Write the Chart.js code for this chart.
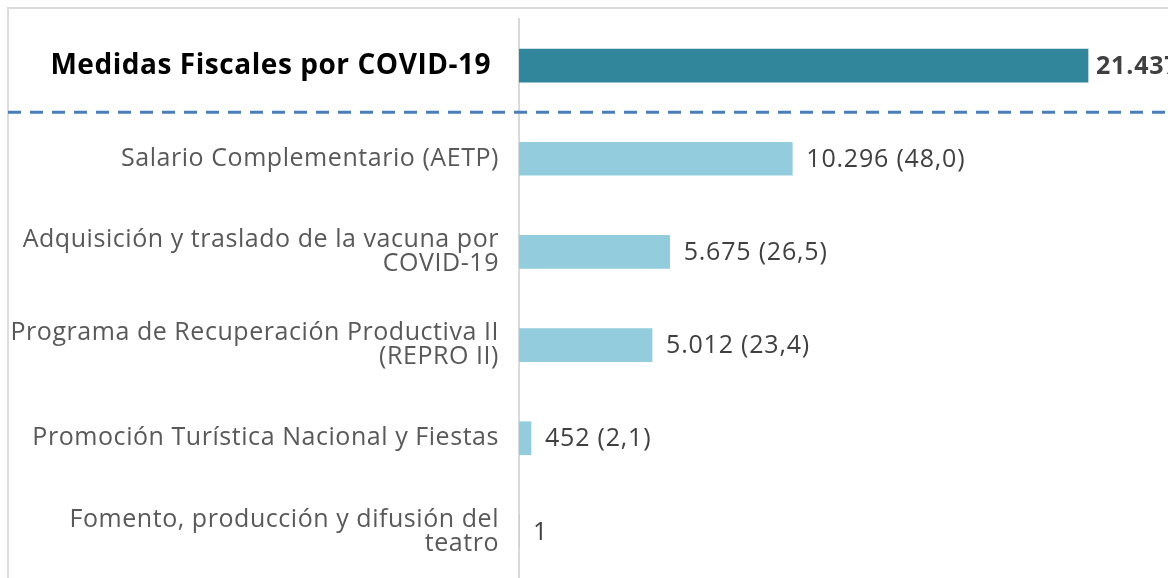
<!DOCTYPE html>
<html>
<head>
<meta charset="utf-8">
<script src="https://cdn.jsdelivr.net/npm/chart.js@4"></script>
<style>
  html, body { margin: 0; padding: 0; background: #fff; }
  #wrap { width: 1168px; height: 578px; }
</style>
</head>
<body>
<div id="wrap"><canvas id="bar-chart"></canvas></div>
<script>
// data (millones de $ and share of total in brackets)
const categories = [
  'Medidas Fiscales por COVID-19 ',
  'Salario Complementario (AETP)',
  ['Adquisición y traslado de la vacuna por', 'COVID-19'],
  ['Programa de Recuperación Productiva II', '(REPRO II)'],
  'Promoción Turística Nacional y Fiestas',
  ['Fomento, producción y difusión del', 'teatro']
];
const values = [21437, 10296, 5675, 5012, 452, 1];
const valueLabels = ['21.437 (100,0)', '10.296 (48,0)', '5.675 (26,5)', '5.012 (23,4)', '452 (2,1)', '1'];
const barColors = ['#31869b', '#93cddd', '#93cddd', '#93cddd', '#93cddd', '#93cddd'];

const FONT = '"Open Sans", Lato, sans-serif';

// frame + dashed separator under the total row
const framePlugin = {
  id: 'frame',
  beforeDraw(chart) {
    const c = chart.ctx;
    // the original font runs wide, open the spacing a bit
    c.letterSpacing = '0.55px';
    c.save();
    c.strokeStyle = '#dcdcdc';
    c.lineWidth = 2;
    c.beginPath();
    c.moveTo(8, chart.height + 5);
    c.lineTo(8, 8);
    c.lineTo(chart.width + 5, 8);
    c.stroke();
    c.restore();
  },
  afterDraw(chart) {
    const y = chart.scales.y;
    const c = chart.ctx;
    const yy = (y.getPixelForValue(0) + y.getPixelForValue(1)) / 2;
    c.save();
    c.strokeStyle = '#4a7ebb';
    c.lineWidth = 3;
    c.setLineDash([13, 9]);
    c.beginPath();
    c.moveTo(8, yy);
    c.lineTo(chart.width, yy);
    c.stroke();
    c.restore();
  }
};

// value labels at the end of each bar
const valuePlugin = {
  id: 'values',
  afterDatasetsDraw(chart) {
    const c = chart.ctx;
    const meta = chart.getDatasetMeta(0);
    c.save();
    c.letterSpacing = '0.8px';
    c.textAlign = 'left';
    c.textBaseline = 'middle';
    meta.data.forEach((bar, i) => {
      c.fillStyle = '#404040';
      c.font = (i === 0 ? 'bold ' : '') + '25px ' + FONT;
      c.fillText(valueLabels[i], bar.x + (i === 0 ? 8 : 14), bar.y + 1);
    });
    c.restore();
  }
};

new Chart(document.getElementById('bar-chart'), {
  type: 'bar',
  data: {
    labels: categories,
    datasets: [{
      data: values,
      backgroundColor: barColors,
      barThickness: 33
    }]
  },
  options: {
    indexAxis: 'y',
    responsive: true,
    maintainAspectRatio: false,
    animation: false,
    layout: { padding: { top: 19, right: 0, bottom: 0, left: 0 } },
    plugins: { legend: { display: false }, tooltip: { enabled: false } },
    scales: {
      x: { display: false, min: 0, max: 24450 },
      y: {
        afterFit(scale) {
          scale.width = 519;
          scale.paddingTop = 0;
          scale.paddingBottom = 0;
        },
        grid: { display: false },
        border: { display: true, color: '#d9d9d9', width: 2 },
        ticks: {
          padding: 12,
          color: ctx => ctx.index === 0 ? '#000000' : '#595959',
          font: ctx => ctx.index === 0
            ? { family: FONT, size: 28, weight: 'bold', lineHeight: '28px' }
            : { family: FONT, size: 25, lineHeight: '24px' }
        }
      }
    }
  },
  plugins: [framePlugin, valuePlugin]
});
</script>
</body>
</html>
